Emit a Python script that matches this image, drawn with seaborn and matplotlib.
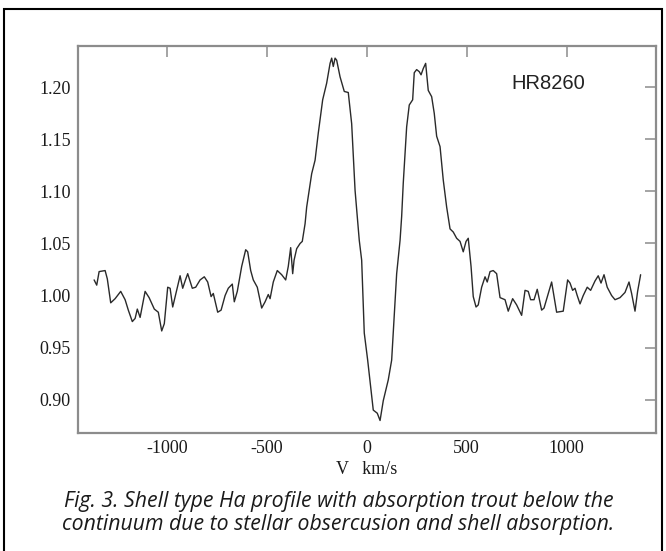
import matplotlib
matplotlib.use("Agg")
import matplotlib.pyplot as plt
import seaborn as sns
import pandas as pd
from matplotlib.patches import Rectangle
from matplotlib.ticker import FormatStrFormatter

sns.set_theme(style="white")
plt.rcParams["font.family"] = ["Liberation Serif", "DejaVu Serif"]
plt.rcParams["axes.unicode_minus"] = False

# H-alpha profile of HR8260
velocity = [
    -1363, -1350, -1338, -1308, -1297, -1280, -1258, -1230, -1208, -1192,
    -1172, -1158, -1147, -1133, -1108, -1088, -1062, -1042, -1025, -1012,
    -995, -983, -970, -950, -933, -920, -908, -895, -872, -855,
    -833, -812, -795, -778, -767, -745, -728, -708, -692, -672,
    -662, -647, -625, -605, -595, -580, -567, -547, -525, -508,
    -492, -483, -467, -447, -425, -405, -392, -380, -370, -363,
    -350, -333, -322, -308, -300, -275, -258, -242, -220, -200,
    -183, -175, -167, -158, -150, -133, -112, -92, -75, -58,
    -37, -25, -12, 5, 22, 33, 53, 67, 83, 108,
    125, 150, 167, 175, 183, 200, 213, 230, 238, 250,
    263, 272, 283, 295, 308, 325, 338, 350, 367, 383,
    400, 417, 433, 450, 467, 483, 497, 508, 522, 533,
    547, 558, 575, 592, 603, 617, 633, 650, 667, 692,
    708, 730, 750, 775, 792, 808, 820, 837, 853, 875,
    887, 925, 937, 950, 983, 1005, 1017, 1030, 1042, 1053,
    1067, 1083, 1103, 1120, 1142, 1158, 1172, 1187, 1203, 1225,
    1242, 1267, 1292, 1312, 1325, 1342, 1355, 1370,
]
flux = [
    1.015, 1.010, 1.023, 1.024, 1.016, 0.993, 0.997, 1.004, 0.996, 0.986,
    0.975, 0.978, 0.987, 0.979, 1.004, 0.998, 0.987, 0.984, 0.966, 0.973,
    1.008, 1.007, 0.989, 1.005, 1.019, 1.007, 1.014, 1.021, 1.007, 1.008,
    1.015, 1.018, 1.013, 0.999, 1.002, 0.984, 0.986, 1.000, 1.007, 1.011,
    0.994, 1.004, 1.028, 1.044, 1.042, 1.024, 1.015, 1.008, 0.988, 0.994,
    1.001, 0.997, 1.013, 1.024, 1.020, 1.015, 1.028, 1.046, 1.021, 1.034,
    1.045, 1.050, 1.052, 1.069, 1.085, 1.117, 1.130, 1.156, 1.188, 1.204,
    1.223, 1.228, 1.220, 1.228, 1.226, 1.210, 1.196, 1.195, 1.165, 1.101,
    1.053, 1.034, 0.964, 0.938, 0.909, 0.890, 0.887, 0.880, 0.899, 0.919,
    0.938, 1.021, 1.053, 1.076, 1.108, 1.162, 1.183, 1.188, 1.214, 1.217,
    1.215, 1.212, 1.218, 1.223, 1.197, 1.191, 1.175, 1.153, 1.143, 1.111,
    1.085, 1.064, 1.061, 1.055, 1.052, 1.042, 1.052, 1.055, 1.028, 0.999,
    0.989, 0.991, 1.008, 1.018, 1.013, 1.023, 1.024, 1.021, 0.998, 0.996,
    0.985, 0.997, 0.991, 0.981, 1.005, 1.004, 0.996, 0.996, 1.006, 0.986,
    0.988, 1.013, 0.999, 0.984, 0.985, 1.015, 1.012, 1.005, 1.007, 1.000,
    0.992, 1.000, 1.008, 1.005, 1.014, 1.019, 1.012, 1.020, 1.008, 1.000,
    0.996, 0.998, 1.003, 1.013, 1.002, 0.985, 1.004, 1.020,
]
x_ticks = [-1000, -500, 0, 500, 1000]
y_ticks = [0.90, 0.95, 1.00, 1.05, 1.10, 1.15, 1.20]
star = "HR8260"
caption = [
    "Fig. 3. Shell type Ha profile with absorption trout below the",
    "continuum due to stellar obsercusion and shell absorption.",
]

df = pd.DataFrame({"V": velocity, "flux": flux})

fig = plt.figure(figsize=(6.66, 5.51), dpi=100)
ax = fig.add_axes([0.1167, 0.2136, 0.868, 0.703])

sns.lineplot(data=df, x="V", y="flux", estimator=None, sort=False,
             color="#2a2a2a", linewidth=1.0, ax=ax)

ax.set_xlim(-1445, 1446)
ax.set_ylim(0.8677, 1.2397)
ax.set_xticks(x_ticks)
ax.set_yticks(y_ticks)
ax.yaxis.set_major_formatter(FormatStrFormatter("%.2f"))

for s in ax.spines.values():
    s.set_color("#8c8c8c")
    s.set_linewidth(1.6)
ax.tick_params(direction="in", top=True, right=True, length=8, width=1.1,
               color="#8c8c8c", labelsize=13, labelcolor="#1a1a1a", pad=5)

ax.set_xlabel("V   km/s", fontsize=13, color="#1a1a1a", labelpad=3)
ax.set_ylabel("")

ax.text(726, 1.204, star, fontsize=14.5, color="#222222",
        family=["Liberation Sans", "DejaVu Sans"], va="center", ha="left")

cap_font = ["Open Sans", "DejaVu Sans"]
fig.text(0.509, 0.0895, caption[0], ha="center", va="center", fontsize=15.3,
         style="italic", family=cap_font, color="#1a1a1a")
fig.text(0.507, 0.0475, caption[1], ha="center", va="center", fontsize=15.3,
         style="italic", family=cap_font, color="#1a1a1a")

# page frame around the figure (open at the bottom)
fig.patches.append(Rectangle((3.7 / 666, -0.05), (662 - 3.7) / 666, 1.05 - 8.5 / 551,
                             transform=fig.transFigure, fill=False,
                             edgecolor="black", linewidth=1.5))

fig.savefig("out.png", dpi=100)
